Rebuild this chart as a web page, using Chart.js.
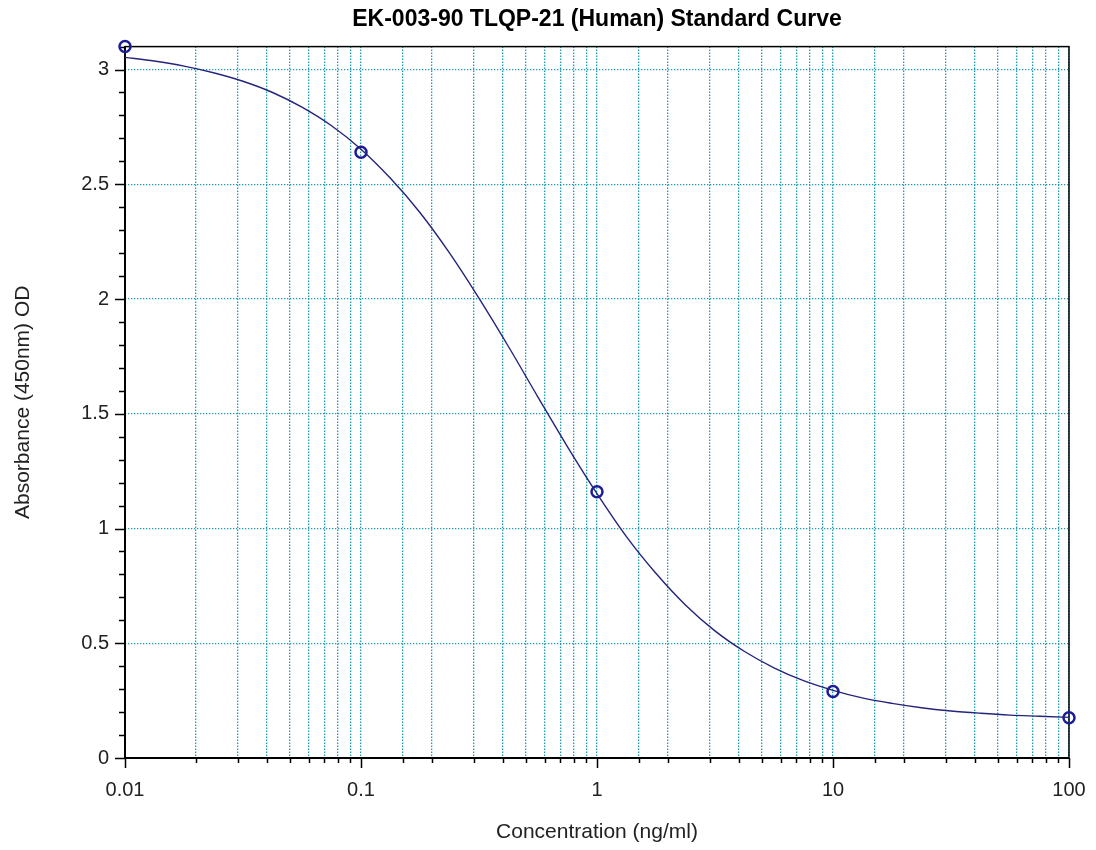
<!DOCTYPE html>
<html>
<head>
<meta charset="utf-8">
<title>EK-003-90 TLQP-21 (Human) Standard Curve</title>
<script src="https://cdn.jsdelivr.net/npm/chart.js@4.4.1/dist/chart.umd.min.js"></script>
<style>
  html, body { margin: 0; padding: 0; background: #fff; }
  #wrap { width: 1096px; height: 850px; }
</style>
</head>
<body>
<div id="wrap"><canvas id="grafico" width="1096" height="850"></canvas></div>
<script>
// pontos do padrão (ng/ml -> OD)
const concPadrao = [0.01, 0.1, 1, 10, 100];
const odPadrao = [3.10, 2.64, 1.16, 0.29, 0.175];

// curva ajustada
const concCurva = [0.01, 0.0133, 0.0178, 0.0237, 0.0316, 0.0422, 0.0562, 0.075,
  0.1, 0.133, 0.178, 0.237, 0.316, 0.422, 0.562, 0.75,
  1, 1.33, 1.78, 2.37, 3.16, 4.22, 5.62, 7.5,
  10, 13.3, 17.8, 23.7, 31.6, 42.2, 56.2, 75, 100];
const odCurva = [3.053, 3.037, 3.015, 2.986, 2.949, 2.900, 2.836, 2.755,
  2.653, 2.527, 2.376, 2.201, 2.004, 1.792, 1.573, 1.356,
  1.152, 0.966, 0.804, 0.667, 0.554, 0.464, 0.393, 0.337,
  0.295, 0.262, 0.238, 0.219, 0.205, 0.195, 0.187, 0.182, 0.177];

const xRotulos = [0.01, 0.1, 1, 10, 100];
const yRotulos = [0, 0.5, 1, 1.5, 2, 2.5, 3];
const yMenores = [0.1, 0.2, 0.3, 0.4, 0.6, 0.7, 0.8, 0.9, 1.1, 1.2, 1.3, 1.4,
  1.6, 1.7, 1.8, 1.9, 2.1, 2.2, 2.3, 2.4, 2.6, 2.7, 2.8, 2.9, 3.1];

const FONTE = "'Liberation Sans', Arial, sans-serif";
const AZUL = "#1c1c9a";
const GRADE = "#1d9db2";

const ehMaior = v => xRotulos.some(m => Math.abs(v - m) / m < 1e-6);

const moldura = {
  id: "moldura",
  beforeDraw(chart) {
    const ctx = chart.ctx;
    ctx.save();
    ctx.fillStyle = "#fff";
    ctx.fillRect(0, 0, chart.width, chart.height);
    ctx.restore();
  },
  beforeDatasetsDraw(chart) {
    const { ctx, chartArea: a, scales: { x, y } } = chart;
    ctx.save();
    ctx.strokeStyle = "#000";
    ctx.lineWidth = 1.5;
    ctx.strokeRect(a.left, a.top, a.right - a.left, a.bottom - a.top);

    ctx.lineWidth = 2;
    ctx.beginPath();
    ctx.moveTo(a.left, a.top);
    ctx.lineTo(a.left, a.bottom);
    ctx.lineTo(a.right, a.bottom);
    ctx.stroke();

    ctx.lineWidth = 1.5;
    ctx.beginPath();
    yRotulos.forEach(v => {
      const py = Math.round(y.getPixelForValue(v)) + 0.5;
      ctx.moveTo(a.left - 10, py); ctx.lineTo(a.left, py);
    });
    yMenores.forEach(v => {
      const py = Math.round(y.getPixelForValue(v)) + 0.5;
      ctx.moveTo(a.left - 6, py); ctx.lineTo(a.left, py);
    });
    x.ticks.forEach(t => {
      const px = Math.round(x.getPixelForValue(t.value)) + 0.5;
      ctx.moveTo(px, a.bottom); ctx.lineTo(px, a.bottom + (ehMaior(t.value) ? 10 : 5));
    });
    ctx.stroke();
    ctx.restore();
  }
};

new Chart(document.getElementById("grafico"), {
  type: "scatter",
  data: {
    datasets: [
      {
        label: "Curva",
        data: concCurva.map((c, i) => ({ x: c, y: odCurva[i] })),
        showLine: true,
        borderColor: "#24247c",
        borderWidth: 1.4,
        pointRadius: 0,
        cubicInterpolationMode: "monotone",
        clip: false
      },
      {
        label: "Padrão",
        data: concPadrao.map((c, i) => ({ x: c, y: odPadrao[i] })),
        showLine: false,
        borderColor: AZUL,
        backgroundColor: "rgba(0,0,0,0)",
        borderWidth: 2.5,
        pointRadius: 5.5,
        clip: false
      }
    ]
  },
  options: {
    responsive: false,
    animation: false,
    layout: { padding: { left: 0, right: 27, top: 0, bottom: 0 } },
    plugins: {
      legend: { display: false },
      tooltip: { enabled: false },
      title: {
        display: true,
        fullSize: false,
        text: "EK-003-90 TLQP-21 (Human) Standard Curve",
        color: "#000",
        font: { family: FONTE, size: 23, weight: "bold" },
        padding: { top: 6, bottom: 13 }
      }
    },
    scales: {
      x: {
        type: "logarithmic",
        min: 0.01,
        max: 100,
        afterFit: s => { s.height = 92; s.paddingLeft = 0; s.paddingRight = 0; },
        grid: { color: GRADE, lineWidth: 1.3, drawTicks: false },
        border: { display: false, dash: [1.3, 1.7] },
        ticks: {
          autoSkip: false,
          maxRotation: 0,
          padding: 20,
          color: "#222",
          font: { family: FONTE, size: 20 },
          callback: v => (ehMaior(v) ? String(v) : "")
        },
        title: {
          display: true,
          text: "Concentration (ng/ml)",
          color: "#222",
          font: { family: FONTE, size: 21 },
          padding: { top: 0, bottom: 5 }
        }
      },
      y: {
        min: 0,
        max: 3.1,
        afterFit: s => { s.width = 125; },
        afterBuildTicks: s => { s.ticks = yRotulos.map(v => ({ value: v })); },
        grid: { color: GRADE, lineWidth: 1.3, drawTicks: false },
        border: { display: false, dash: [1.3, 1.7] },
        ticks: {
          padding: 16,
          color: "#222",
          font: { family: FONTE, size: 20 },
          callback: v => String(v)
        },
        title: {
          display: true,
          text: "Absorbance (450nm) OD",
          color: "#222",
          font: { family: FONTE, size: 21 },
          padding: { top: 11, bottom: 0 }
        }
      }
    }
  },
  plugins: [moldura]
});
</script>
</body>
</html>
